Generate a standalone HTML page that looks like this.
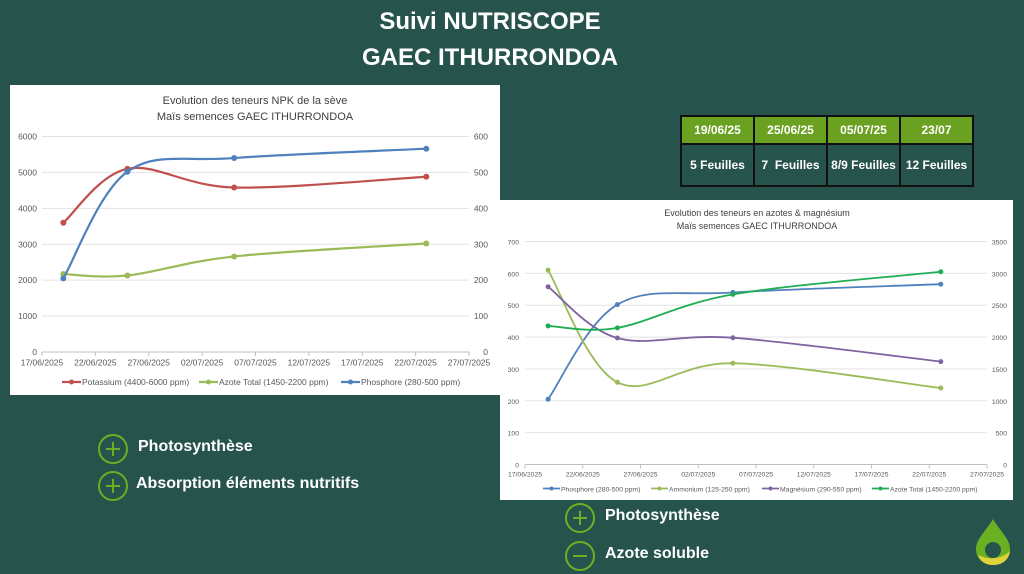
<!DOCTYPE html>
<html><head><meta charset="utf-8">
<style>
html,body{margin:0;padding:0;}
body{width:1024px;height:574px;background:#27534d;position:relative;overflow:hidden;font-family:"Liberation Sans",sans-serif;}
.title{position:absolute;left:0;width:980px;text-align:center;color:#fff;font-weight:bold;font-size:24px;}
.box{position:absolute;background:#fff;}
table.stage{position:absolute;left:680px;top:115px;border-collapse:collapse;}
table.stage td{border:2px solid #111;color:#fff;font-weight:bold;font-size:12px;text-align:center;width:71px;padding:0;}
table.stage tr.h td{background:#6aa121;height:26px;}
table.stage tr.b td{background:#27534d;height:40px;}
.bullet{position:absolute;color:#fff;font-weight:bold;font-size:16px;}
.circ{position:absolute;width:26px;height:26px;border:2px solid #6ab023;border-radius:50%;}
.circ:before{content:"";position:absolute;left:6px;top:12px;width:14px;height:2px;background:#6ab023;}
.circ.plus:after{content:"";position:absolute;left:12px;top:6px;width:2px;height:14px;background:#6ab023;}
</style></head>
<body>
<div class="title" style="top:8px">Suivi NUTRISCOPE</div>
<div class="title" style="top:44px">GAEC ITHURRONDOA</div>

<div class="box" style="left:10px;top:85px;width:490px;height:310px">
<svg id="c1" width="490" height="310"></svg></div>
<div class="box" style="left:500px;top:200px;width:513px;height:300px">
<svg id="c2" width="513" height="300"></svg></div>

<table class="stage">
<tr class="h"><td>19/06/25</td><td>25/06/25</td><td>05/07/25</td><td>23/07</td></tr>
<tr class="b"><td>5 Feuilles</td><td>7&nbsp; Feuilles</td><td>8/9 Feuilles</td><td>12 Feuilles</td></tr>
</table>

<div class="circ plus" style="left:98px;top:434px"></div>
<div class="bullet" style="left:138px;top:438px">Photosynthèse</div>
<div class="circ plus" style="left:98px;top:471px"></div>
<div class="bullet" style="left:136px;top:475px">Absorption éléments nutritifs</div>
<div class="circ plus" style="left:565px;top:503px"></div>
<div class="bullet" style="left:605px;top:507px">Photosynthèse</div>
<div class="circ" style="left:565px;top:541px"></div>
<div class="bullet" style="left:605px;top:545px">Azote soluble</div>

<svg style="position:absolute;left:972px;top:517px" width="42" height="50">
<path d="M21 2 C14 14 4 22 4 32 C4 42 12 48 21 48 C30 48 38 42 38 32 C38 22 28 14 21 2Z" fill="#6ab023"/>
<ellipse cx="21" cy="33" rx="8" ry="8" fill="#27534d"/>
<path d="M6 38 C14 42 28 44 38 34 C37 43 30 48 21 48 C13 48 8 44 6 38Z" fill="#e0d23a"/>
</svg>

<script>
const dayOffsets=[2,8,18,36];
const xTickLabels=["17/06/2025","22/06/2025","27/06/2025","02/07/2025","07/07/2025","12/07/2025","17/07/2025","22/07/2025","27/07/2025"];
const npkPotassium=[3600,5100,4580,4880];
const npkAzote=[2170,2130,2660,3020];
const npkPhosphore=[205,502,540,566];
const npkLeftTicks=[0,1000,2000,3000,4000,5000,6000];
const npkRightTicks=[0,100,200,300,400,500,600];
const mgPhosphore=[205,502,540,566];
const mgAmmonium=[610,258,318,240];
const mgMagnesium=[558,397,398,323];
const mgAzoteTotal=[2175,2145,2670,3025];
const mgLeftTicks=[0,100,200,300,400,500,600,700];
const mgRightTicks=[0,500,1000,1500,2000,2500,3000,3500];
const NS="http://www.w3.org/2000/svg";
function mk(svg,tag,attrs){const e=document.createElementNS(NS,tag);for(const k in attrs)e.setAttribute(k,attrs[k]);svg.appendChild(e);return e;}
function smooth(pts){let d="M"+pts[0][0]+" "+pts[0][1];for(let i=0;i<pts.length-1;i++){const p0=pts[i-1]||pts[i],p1=pts[i],p2=pts[i+1],p3=pts[i+2]||p2;const t=6;d+=" C"+(p1[0]+(p2[0]-p0[0])/t)+" "+(p1[1]+(p2[1]-p0[1])/t)+" "+(p2[0]-(p3[0]-p1[0])/t)+" "+(p2[1]-(p3[1]-p1[1])/t)+" "+p2[0]+" "+p2[1];}return d;}
function chart(svg,o){
  const x=d=>o.x0+(o.x1-o.x0)*d/40;
  const yL=v=>o.y0-(o.y0-o.y1)*v/o.lmax;
  const yR=v=>o.y0-(o.y0-o.y1)*v/o.rmax;
  o.titles.forEach((t,i)=>{const e=mk(svg,"text",{x:o.tx,y:o.ty+i*o.tfs*1.45,"text-anchor":"middle","font-size":o.tfs,fill:"#404040"});e.textContent=t;
    
    });
  o.lt.forEach((v,i)=>{const y=yL(v);
    const g=mk(svg,"line",{x1:o.x0,x2:o.x1,y1:y,y2:y,stroke:i==0?"#bfbfbf":"#e3e3e3","stroke-width":1});
    
    
    const a=mk(svg,"text",{x:o.lx,y:y+3,"text-anchor":"end","font-size":o.fs,fill:"#595959"});a.textContent=v;
    
    
    const b=mk(svg,"text",{x:o.rx,y:y+3,"text-anchor":"end","font-size":o.fs,fill:"#595959"});b.textContent=o.rt[i];
    
    });
  xTickLabels.forEach((l,i)=>{const xx=x(i*5);
    const t=mk(svg,"line",{x1:xx,x2:xx,y1:o.y0,y2:o.y0+4,stroke:"#bfbfbf"});
    
    
    const e=mk(svg,"text",{x:xx,y:o.y0+o.fs+5,"text-anchor":"middle","font-size":o.fs,fill:"#595959"});e.textContent=l;
    
    });
  o.series.forEach(s=>{const yf=s.right?yR:yL;const pts=s.vals.map((v,i)=>[x(dayOffsets[i]),yf(v)]);
    const p=mk(svg,"path",{d:smooth(pts),fill:"none",stroke:s.c,"stroke-width":o.lw});
    
    
    pts.forEach(q=>{const c=mk(svg,"circle",{cx:q[0],cy:q[1],r:o.r,fill:s.c});
      
      });
    const lg=mk(svg,"line",{x1:s.lx,x2:s.lx+o.ll,y1:o.ly,y2:o.ly,stroke:s.c,"stroke-width":o.lw});
    
    
    mk(svg,"circle",{cx:s.lx+o.ll/2,cy:o.ly,r:o.r-0.5,fill:s.c});
    const lt=mk(svg,"text",{x:s.lx+o.ll+1,y:o.ly+3,"font-size":o.fs,fill:"#595959"});lt.textContent=s.n;
    
    });
}
chart(document.getElementById("c1"),{x0:32,x1:459,y0:267,y1:51.5,lmax:6000,rmax:600,lt:npkLeftTicks,rt:npkRightTicks,lx:27,rx:478,fs:8.5,tfs:11,tx:245,ty:19,lw:2.2,r:3,ll:19,ly:297,
 titles:["Evolution des teneurs NPK de la sève","Maïs semences GAEC ITHURRONDOA"],
 series:[{vals:npkPotassium,c:"#c0504d",n:"Potassium (4400-6000 ppm)",lx:52},
         {vals:npkAzote,c:"#9bbb59",n:"Azote Total (1450-2200 ppm)",lx:189},
         {vals:npkPhosphore,c:"#4f81bd",n:"Phosphore (280-500 ppm)",lx:331,right:true}]});
chart(document.getElementById("c2"),{x0:25,x1:487,y0:264.5,y1:41.5,lmax:700,rmax:3500,lt:mgLeftTicks,rt:mgRightTicks,lx:19,rx:507,fs:6.8,tfs:9,tx:257,ty:16,lw:1.8,r:2.5,ll:17,ly:288.5,
 titles:["Evolution des teneurs en azotes & magnésium","Maïs semences GAEC ITHURRONDOA"],
 series:[{vals:mgPhosphore,c:"#4f81bd",n:"Phosphore (280-500 ppm)",lx:43},
         {vals:mgAmmonium,c:"#9bbb59",n:"Ammonium (125-250 ppm)",lx:151},
         {vals:mgMagnesium,c:"#8064a2",n:"Magnésium (290-550 ppm)",lx:262},
         {vals:mgAzoteTotal,c:"#1fae54",n:"Azote Total (1450-2200 ppm)",lx:372,right:true}]});
</script>
</body></html>
